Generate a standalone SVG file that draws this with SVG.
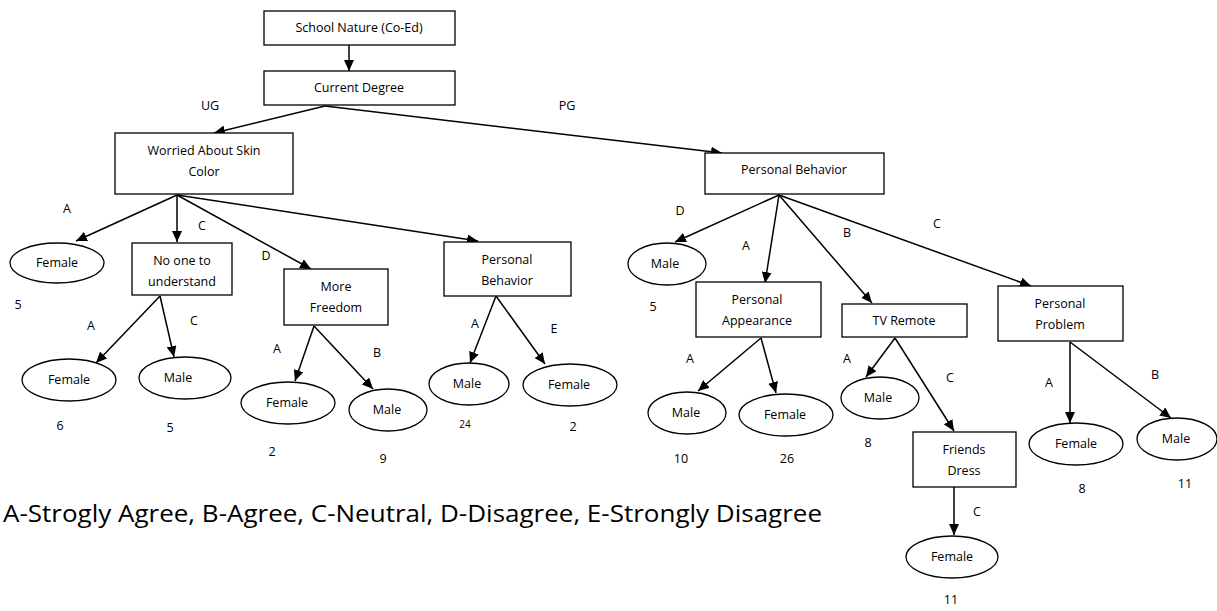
<svg xmlns="http://www.w3.org/2000/svg" width="1217" height="611" viewBox="0 0 1217 611">
<style>
.box{fill:#fff;stroke:#000;stroke-width:1.3}
.ell{fill:#fff;stroke:#000;stroke-width:1.3}
.t{font-family:"Open Sans","Liberation Sans",Arial,sans-serif;font-size:12.5px;fill:#000;text-anchor:middle}
.lb{font-family:"Open Sans","Liberation Sans",Arial,sans-serif;font-size:12.5px;fill:#000;text-anchor:middle}
.c line{stroke:#000;stroke-width:1.5;marker-end:url(#ah)}
.leg{font-family:"Open Sans","Liberation Sans",Arial,sans-serif;font-size:23px;fill:#000}
</style>
<defs>
<marker id="ah" markerUnits="userSpaceOnUse" markerWidth="12" markerHeight="10" refX="11" refY="5" orient="auto">
<path d="M0,0 L11,5 L0,10 Z" fill="#000"/>
</marker>
</defs>
<rect width="1217" height="611" fill="#fff"/>
<g id="connectors" class="c">
<line x1="349" y1="45" x2="349" y2="71"/>
<line x1="325" y1="106" x2="214" y2="133"/>
<line x1="325" y1="106" x2="722" y2="153"/>
<line x1="177" y1="195" x2="76" y2="241"/>
<line x1="177" y1="195" x2="177" y2="242"/>
<line x1="177" y1="195" x2="311" y2="269"/>
<line x1="177" y1="195" x2="478" y2="241"/>
<line x1="160" y1="296" x2="96" y2="363"/>
<line x1="160" y1="296" x2="174" y2="357"/>
<line x1="314" y1="326" x2="295" y2="381"/>
<line x1="314" y1="326" x2="373" y2="389"/>
<line x1="496" y1="296" x2="470" y2="363"/>
<line x1="496" y1="296" x2="545" y2="364"/>
<line x1="779" y1="195" x2="675" y2="242"/>
<line x1="779" y1="195" x2="765" y2="283"/>
<line x1="779" y1="195" x2="872" y2="303"/>
<line x1="779" y1="195" x2="1031" y2="286"/>
<line x1="761" y1="338" x2="698" y2="391"/>
<line x1="761" y1="338" x2="776" y2="393"/>
<line x1="895" y1="338" x2="866" y2="377"/>
<line x1="895" y1="338" x2="954" y2="431"/>
<line x1="954" y1="487" x2="954" y2="535"/>
<line x1="1070" y1="342" x2="1070" y2="423"/>
<line x1="1070" y1="342" x2="1171" y2="418"/>
</g>
<g id="n-school"><rect class="box" x="264" y="11" width="191" height="34"/><text class="t" x="359" y="32">School Nature (Co-Ed)</text></g>
<g id="n-degree"><rect class="box" x="264" y="71" width="191" height="34"/><text class="t" x="359" y="92">Current Degree</text></g>
<g id="n-worried"><rect class="box" x="115" y="133" width="178" height="61"/><text class="t" x="204" y="155">Worried About Skin</text><text class="t" x="204" y="176">Color</text></g>
<g id="n-female1"><ellipse class="ell" cx="57" cy="263" rx="47" ry="20"/><text class="t" x="57" y="267">Female</text></g>
<g id="n-noone"><rect class="box" x="132" y="243" width="100" height="52"/><text class="t" x="182" y="265">No one to</text><text class="t" x="182" y="286">understand</text></g>
<g id="n-freedom"><rect class="box" x="284" y="269" width="104" height="56"/><text class="t" x="336" y="291">More</text><text class="t" x="336" y="312">Freedom</text></g>
<g id="n-pb1"><rect class="box" x="444" y="242" width="127" height="54"/><text class="t" x="507" y="264">Personal</text><text class="t" x="507" y="285">Behavior</text></g>
<g id="n-female2"><ellipse class="ell" cx="69" cy="380" rx="47" ry="21"/><text class="t" x="69" y="384">Female</text></g>
<g id="n-male1"><ellipse class="ell" cx="185" cy="378" rx="46" ry="21"/><text class="t" x="178" y="382">Male</text></g>
<g id="n-female3"><ellipse class="ell" cx="288" cy="403" rx="47" ry="21"/><text class="t" x="287" y="407">Female</text></g>
<g id="n-male2"><ellipse class="ell" cx="388" cy="410" rx="39" ry="21"/><text class="t" x="387" y="414">Male</text></g>
<g id="n-male3"><ellipse class="ell" cx="469" cy="384" rx="40" ry="21"/><text class="t" x="467" y="388">Male</text></g>
<g id="n-female4"><ellipse class="ell" cx="570" cy="385" rx="47" ry="21"/><text class="t" x="569" y="389">Female</text></g>
<g id="n-pb2"><rect class="box" x="705" y="153" width="179" height="41"/><text class="t" x="794" y="174">Personal Behavior</text></g>
<g id="n-male4"><ellipse class="ell" cx="667" cy="264" rx="39" ry="21"/><text class="t" x="665" y="268">Male</text></g>
<g id="n-appearance"><rect class="box" x="696" y="282" width="125" height="55"/><text class="t" x="757" y="304">Personal</text><text class="t" x="757" y="325">Appearance</text></g>
<g id="n-tv"><rect class="box" x="842" y="304" width="125" height="33"/><text class="t" x="904" y="325">TV Remote</text></g>
<g id="n-problem"><rect class="box" x="998" y="286" width="125" height="55"/><text class="t" x="1060" y="308">Personal</text><text class="t" x="1060" y="329">Problem</text></g>
<g id="n-male5"><ellipse class="ell" cx="687" cy="413" rx="39" ry="21"/><text class="t" x="686" y="417">Male</text></g>
<g id="n-female5"><ellipse class="ell" cx="786" cy="415" rx="47" ry="21"/><text class="t" x="785" y="419">Female</text></g>
<g id="n-male6"><ellipse class="ell" cx="880" cy="398" rx="39" ry="21"/><text class="t" x="878" y="402">Male</text></g>
<g id="n-friends"><rect class="box" x="913" y="432" width="103" height="55"/><text class="t" x="964" y="454">Friends</text><text class="t" x="964" y="475">Dress</text></g>
<g id="n-female6"><ellipse class="ell" cx="952" cy="557" rx="46" ry="21"/><text class="t" x="952" y="561">Female</text></g>
<g id="n-female7"><ellipse class="ell" cx="1076" cy="444" rx="47" ry="21"/><text class="t" x="1076" y="448">Female</text></g>
<g id="n-male7"><ellipse class="ell" cx="1177" cy="439" rx="40" ry="21"/><text class="t" x="1176" y="443">Male</text></g>
<g id="labels">
<text class="lb" x="210" y="110">UG</text>
<text class="lb" x="567" y="110">PG</text>
<text class="lb" x="67" y="213">A</text>
<text class="lb" x="202" y="230">C</text>
<text class="lb" x="266" y="260">D</text>
<text class="lb" x="18" y="309">5</text>
<text class="lb" x="91" y="330">A</text>
<text class="lb" x="194" y="325">C</text>
<text class="lb" x="60" y="430">6</text>
<text class="lb" x="170" y="432">5</text>
<text class="lb" x="277" y="353">A</text>
<text class="lb" x="377" y="357">B</text>
<text class="lb" x="272" y="456">2</text>
<text class="lb" x="383" y="463">9</text>
<text class="lb" x="475" y="328">A</text>
<text class="lb" x="554" y="333">E</text>
<text class="lb" x="465" y="428" style="font-size:10px">24</text>
<text class="lb" x="573" y="431">2</text>
<text class="lb" x="680" y="215">D</text>
<text class="lb" x="746" y="250">A</text>
<text class="lb" x="847" y="237">B</text>
<text class="lb" x="937" y="228">C</text>
<text class="lb" x="653" y="311">5</text>
<text class="lb" x="690" y="363">A</text>
<text class="lb" x="681" y="463">10</text>
<text class="lb" x="787" y="463">26</text>
<text class="lb" x="847" y="363">A</text>
<text class="lb" x="950" y="382">C</text>
<text class="lb" x="868" y="447">8</text>
<text class="lb" x="977" y="516">C</text>
<text class="lb" x="951" y="604">11</text>
<text class="lb" x="1049" y="387">A</text>
<text class="lb" x="1155" y="379">B</text>
<text class="lb" x="1082" y="493">8</text>
<text class="lb" x="1185" y="488">11</text>
</g>
<text class="leg" x="3" y="522" textLength="819" lengthAdjust="spacingAndGlyphs">A-Strogly Agree, B-Agree, C-Neutral, D-Disagree, E-Strongly Disagree</text>
</svg>
